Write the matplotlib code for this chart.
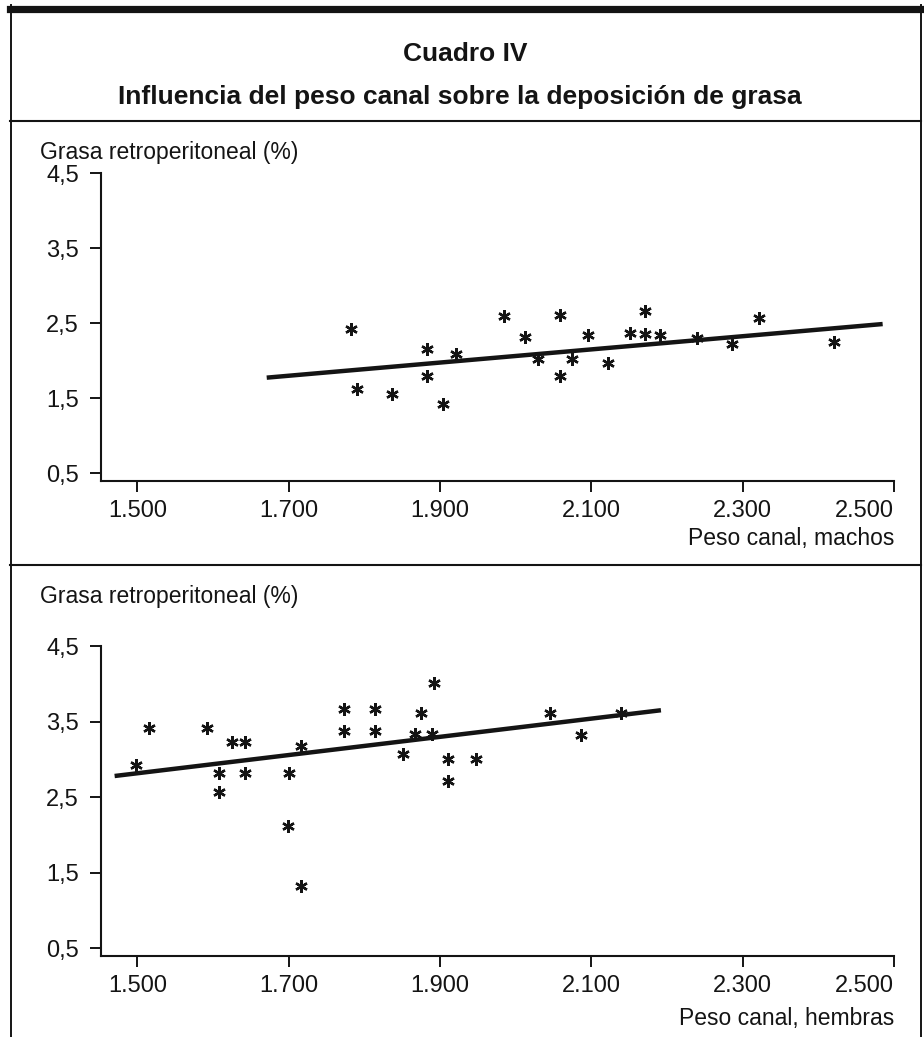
import matplotlib
matplotlib.use('agg')
import matplotlib.pyplot as plt
from matplotlib.lines import Line2D

# peso canal / grasa retroperitoneal, machos
machos_x = [1783, 1790, 1837, 1883, 1883, 1904, 1921, 1984, 2013, 2030, 2058, 2059,
            2074, 2096, 2122, 2151, 2171, 2171, 2191, 2239, 2286, 2321, 2421]
machos_y = [2.42, 1.62, 1.56, 2.16, 1.80, 1.42, 2.09, 2.60, 2.32, 2.03, 2.61, 1.80,
            2.02, 2.34, 1.97, 2.37, 2.36, 2.66, 2.35, 2.30, 2.23, 2.57, 2.25]
fit_machos_x = [1671, 2485]
fit_machos_y = [1.775, 2.49]

# hembras
hembras_x = [1498, 1515, 1592, 1625, 1642, 1608, 1642, 1608, 1700, 1699, 1716, 1716,
             1773, 1773, 1814, 1814, 1851, 1867, 1875, 1890, 1892, 1911, 1911, 1948,
             2045, 2087, 2139]
hembras_y = [2.93, 3.42, 3.42, 3.23, 3.23, 2.82, 2.82, 2.57, 2.82, 2.12, 1.33, 3.18,
             3.66, 3.37, 3.66, 3.37, 3.07, 3.34, 3.62, 3.33, 4.01, 3.01, 2.72, 3.01,
             3.62, 3.32, 3.62]
fit_hembras_x = [1470, 2192]
fit_hembras_y = [2.78, 3.65]

x_ticks = [1500, 1700, 1900, 2100, 2300, 2500]
x_labels = ['1.500', '1.700', '1.900', '2.100', '2.300', '2.500']
y_ticks = [0.5, 1.5, 2.5, 3.5, 4.5]
y_labels = ['0,5', '1,5', '2,5', '3,5', '4,5']

plt.rcParams['font.family'] = ['Liberation Sans', 'DejaVu Sans']
INK = '#141414'

W, H = 924, 1037
fig = plt.figure(figsize=(W / 100, H / 100), dpi=100)


def fx(x):
    return x / W


def fy(y):
    return 1 - y / H


def panel(top_px, bottom_px, xs, ys, fit_x, fit_y, ymin):
    ax = fig.add_axes([fx(101), fy(bottom_px), fx(894 - 101), (bottom_px - top_px) / H])
    ax.plot(xs, ys, ls='none', marker=(6, 2, 0), ms=9, mew=1.7, color=INK)
    ax.plot(fit_x, fit_y, color=INK, lw=3.2, solid_capstyle='butt')
    ax.set_xlim(1452, 2500)
    ax.set_ylim(ymin, 4.5)
    ax.set_xticks(x_ticks)
    ax.set_xticklabels(x_labels)
    ax.set_yticks(y_ticks)
    ax.set_yticklabels(y_labels)
    for s in ['top', 'right']:
        ax.spines[s].set_visible(False)
    for s in ['left', 'bottom']:
        ax.spines[s].set_linewidth(1.5)
        ax.spines[s].set_color(INK)
    ax.tick_params(axis='both', direction='out', length=8, width=1.4, color=INK,
                   labelsize=17, labelcolor=INK)
    ax.tick_params(axis='y', pad=8)
    ax.tick_params(axis='x', pad=6)
    # last label sits flush with the end of the axis
    ax.get_xticklabels()[-1].set_horizontalalignment('right')
    ax.patch.set_alpha(0)
    return ax


panel(173.3, 481, machos_x, machos_y, fit_machos_x, fit_machos_y, 0.397)
panel(646, 955.5, hembras_x, hembras_y, fit_hembras_x, fit_hembras_y, 0.405)


# frame of the table
def hline(y, lw, x0=10, x1=921):
    fig.add_artist(Line2D([fx(x0), fx(x1)], [fy(y), fy(y)], color=INK, lw=lw))


def vline(x, lw, y0=5, y1=1037):
    fig.add_artist(Line2D([fx(x), fx(x)], [fy(y0), fy(y1)], color=INK, lw=lw))


hline(8.5, 5.2, 10, 924)
hline(120.5, 1.5)
hline(565, 1.5)
vline(10.5, 1.4)
vline(921, 1.4)

fig.text(fx(465), fy(54), 'Cuadro IV', ha='center', va='center',
         fontsize=19, fontweight='bold', color=INK)
fig.text(fx(460), fy(97), 'Influencia del peso canal sobre la deposición de grasa',
         ha='center', va='center', fontsize=19, fontweight='bold', color=INK)

fig.text(fx(40), fy(153), 'Grasa retroperitoneal (%)', ha='left', va='center',
         fontsize=16.5, color=INK)
fig.text(fx(894), fy(538), 'Peso canal, machos', ha='right', va='center',
         fontsize=16.5, color=INK)
fig.text(fx(40), fy(597), 'Grasa retroperitoneal (%)', ha='left', va='center',
         fontsize=16.5, color=INK)
fig.text(fx(894), fy(1018), 'Peso canal, hembras', ha='right', va='center',
         fontsize=16.5, color=INK)

fig.savefig('out.png', dpi=100, facecolor='white')
